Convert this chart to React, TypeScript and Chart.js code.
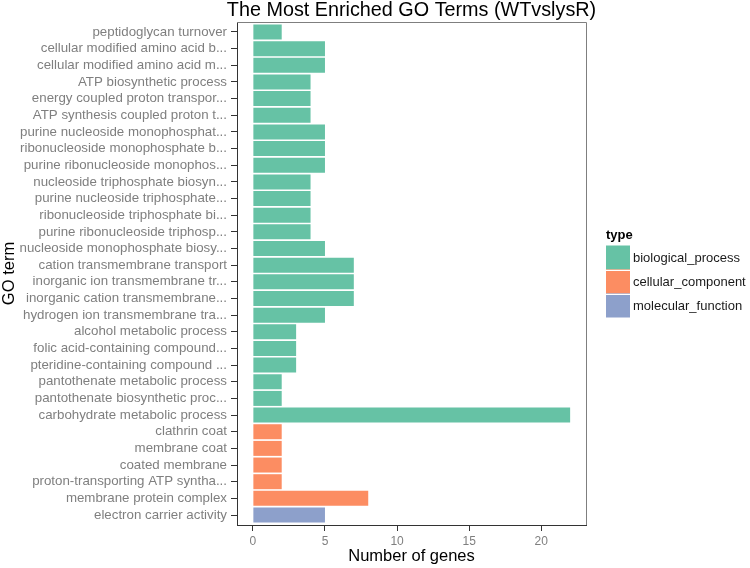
import React, { useEffect, useRef } from "react";
import { Chart, registerables } from "chart.js";

Chart.register(...registerables);

const FONT = '"Liberation Sans", Arial, Helvetica, sans-serif';

const titleText = "The Most Enriched GO Terms (WTvslysR)";
const xAxisTitle = "Number of genes";
const yAxisTitle = "GO term";
const legendTitle = "type";

const categories = [
  "peptidoglycan turnover",
  "cellular modified amino acid b...",
  "cellular modified amino acid m...",
  "ATP biosynthetic process",
  "energy coupled proton transpor...",
  "ATP synthesis coupled proton t...",
  "purine nucleoside monophosphat...",
  "ribonucleoside monophosphate b...",
  "purine ribonucleoside monophos...",
  "nucleoside triphosphate biosyn...",
  "purine nucleoside triphosphate...",
  "ribonucleoside triphosphate bi...",
  "purine ribonucleoside triphosp...",
  "nucleoside monophosphate biosy...",
  "cation transmembrane transport",
  "inorganic ion transmembrane tr...",
  "inorganic cation transmembrane...",
  "hydrogen ion transmembrane tra...",
  "alcohol metabolic process",
  "folic acid-containing compound...",
  "pteridine-containing compound ...",
  "pantothenate metabolic process",
  "pantothenate biosynthetic proc...",
  "carbohydrate metabolic process",
  "clathrin coat",
  "membrane coat",
  "coated membrane",
  "proton-transporting ATP syntha...",
  "membrane protein complex",
  "electron carrier activity",
];

const geneCounts = [
  2, 5, 5, 4, 4, 4, 5, 5, 5, 4, 4, 4, 4, 5, 7, 7, 7, 5, 3, 3, 3, 2, 2, 22,
  2, 2, 2, 2, 8,
  5,
];

const termTypes = [
  "biological_process", "biological_process", "biological_process", "biological_process",
  "biological_process", "biological_process", "biological_process", "biological_process",
  "biological_process", "biological_process", "biological_process", "biological_process",
  "biological_process", "biological_process", "biological_process", "biological_process",
  "biological_process", "biological_process", "biological_process", "biological_process",
  "biological_process", "biological_process", "biological_process", "biological_process",
  "cellular_component", "cellular_component", "cellular_component", "cellular_component",
  "cellular_component",
  "molecular_function",
];

const typeNames = ["biological_process", "cellular_component", "molecular_function"];
const typeColors = ["#66C2A5", "#FC8D62", "#8DA0CB"];

const xTicks = [0, 5, 10, 15, 20];

const decorPlugin = {
  id: "decor",
  afterDraw(chart: any) {
    const { ctx, chartArea: a } = chart;
    ctx.save();
    // panel border (top + right)
    ctx.strokeStyle = "#7f7f7f";
    ctx.lineWidth = 1;
    ctx.beginPath();
    ctx.moveTo(a.left, Math.floor(a.top) + 0.5);
    ctx.lineTo(Math.floor(a.right) + 0.5, Math.floor(a.top) + 0.5);
    ctx.lineTo(Math.floor(a.right) + 0.5, a.bottom);
    ctx.stroke();

    // title
    ctx.fillStyle = "#000";
    ctx.font = `19.8px ${FONT}`;
    ctx.textAlign = "center";
    ctx.textBaseline = "alphabetic";
    ctx.fillText(titleText, (a.left + a.right) / 2, 16);

    // legend
    const lx = a.right + 20;
    const mid = (a.top + a.bottom) / 2;
    const boxTop = mid - 28;
    const box = 24;
    ctx.textAlign = "left";
    ctx.font = `bold 13px ${FONT}`;
    ctx.fillStyle = "#000";
    ctx.fillText(legendTitle, lx, boxTop - 6.5);
    ctx.font = `13px ${FONT}`;
    typeNames.forEach((name, i) => {
      const y = boxTop + i * box;
      ctx.fillStyle = typeColors[i];
      ctx.fillRect(lx, y, box, box);
      ctx.fillStyle = "#1a1a1a";
      ctx.textBaseline = "middle";
      ctx.fillText(name, lx + 27, y + box / 2 + 1);
    });
    ctx.strokeStyle = "#ffffff";
    ctx.lineWidth = 1;
    for (let i = 1; i < typeNames.length; i++) {
      const y = Math.round(boxTop + i * box) + 0.5;
      ctx.beginPath();
      ctx.moveTo(lx, y);
      ctx.lineTo(lx + box, y);
      ctx.stroke();
    }
    ctx.restore();
  },
};

export default function App() {
  const ref = useRef<HTMLCanvasElement | null>(null);

  useEffect(() => {
    if (!ref.current) return;
    const colorOf = (t: string) => typeColors[typeNames.indexOf(t)];
    const chart = new Chart(ref.current, {
      type: "bar",
      data: {
        datasets: [
          {
            data: geneCounts.map((v, i) => ({ x: v, y: i })),
            backgroundColor: termTypes.map(colorOf),
            borderWidth: 0,
            categoryPercentage: 1,
            barPercentage: 0.9,
          } as any,
        ],
      },
      options: {
        indexAxis: "y",
        animation: false,
        responsive: false,
        devicePixelRatio: 1,
        layout: { padding: { top: 22, right: 164, left: 0, bottom: 0 } },
        plugins: {
          legend: { display: false },
          tooltip: { enabled: false },
          title: { display: false },
        },
        scales: {
          x: {
            type: "linear",
            position: "bottom",
            min: -1.1,
            max: 23.1,
            offset: false,
            afterBuildTicks: (s: any) => {
              s.ticks = xTicks.map((v) => ({ value: v }));
            },
            afterFit: (s: any) => {
              s.height = 43;
            },
            ticks: {
              color: "#7f7f7f",
              font: { size: 12, family: FONT },
              padding: 3,
              autoSkip: false,
              maxRotation: 0,
            },
            grid: {
              display: true,
              drawOnChartArea: false,
              offset: false,
              tickLength: 6,
              color: "#333333",
              tickColor: "#333333",
            },
            border: { display: true, color: "#333333", width: 1 },
            title: {
              display: true,
              text: xAxisTitle,
              color: "#000",
              font: { size: 16.5, family: FONT },
              padding: { top: 0, bottom: 2 },
            },
          },
          y: {
            type: "linear",
            reverse: true,
            offset: false,
            min: -0.6,
            max: categories.length - 1 + 0.6,
            afterBuildTicks: (s: any) => {
              s.ticks = categories.map((_, i) => ({ value: i }));
            },
            afterFit: (s: any) => {
              s.width = 237;
            },
            ticks: {
              callback: (v: any) => categories[v as number],
              color: "#7f7f7f",
              font: { size: 13.3, family: FONT },
              padding: 4,
              autoSkip: false,
            },
            grid: {
              display: true,
              drawOnChartArea: false,
              offset: false,
              tickLength: 6,
              color: "#333333",
              tickColor: "#333333",
            },
            border: { display: true, color: "#333333", width: 1 },
            title: {
              display: true,
              text: yAxisTitle,
              color: "#000",
              font: { size: 16.5, family: FONT },
              padding: 0,
            },
          },
        },
      } as any,
      plugins: [decorPlugin],
    });
    return () => chart.destroy();
  }, []);

  return (
    <div style={{ position: "absolute", left: 0, top: 0, width: 750, height: 568, background: "#fff" }}>
      <canvas ref={ref} width={750} height={568} />
    </div>
  );
}
